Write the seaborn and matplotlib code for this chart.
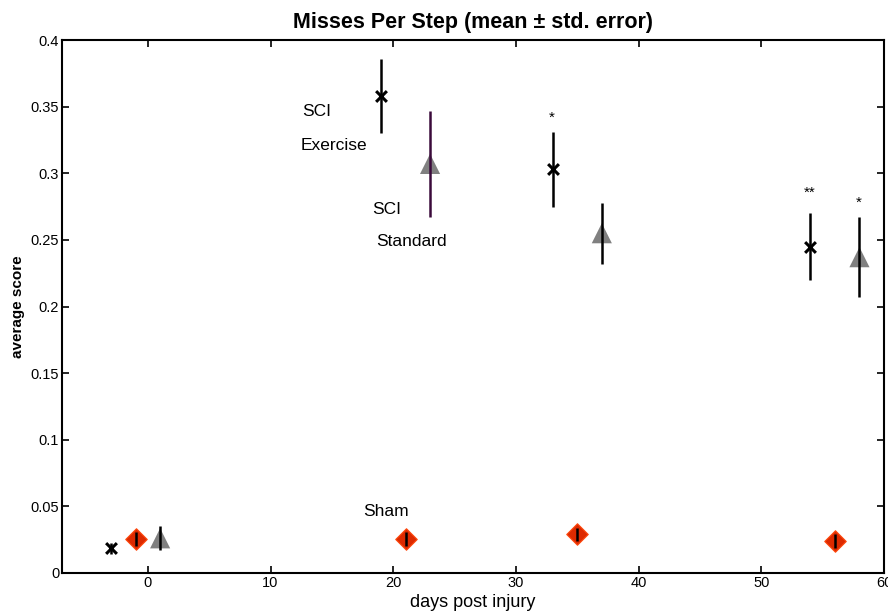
import numpy as np
import pandas as pd
import matplotlib
matplotlib.use("Agg")
import matplotlib.pyplot as plt
import seaborn as sns

# values
exercise_days = [-3, 19, 33, 54]
exercise_mean = [0.0185, 0.358, 0.303, 0.245]
exercise_err = [0.004, 0.028, 0.028, 0.025]

standard_days = [1, 23, 37, 58]
standard_mean = [0.026, 0.307, 0.255, 0.237]
standard_err = [0.009, 0.040, 0.023, 0.030]

sham_days = [-1, 21, 35, 56]
sham_mean = [0.0255, 0.0255, 0.029, 0.024]
sham_err = [0.005, 0.005, 0.005, 0.005]

y_ticks = [0, 0.05, 0.1, 0.15, 0.2, 0.25, 0.3, 0.35, 0.4]
y_tick_labels = ["0", "0.05", "0.1", "0.15", "0.2", "0.25", "0.3", "0.35", "0.4"]
x_ticks = [0, 10, 20, 30, 40, 50, 60]

sns.set_style("ticks")
plt.rcParams['font.family'] = ['Liberation Sans', 'DejaVu Sans']
plt.rcParams['text.color'] = 'black'
plt.rcParams['axes.labelcolor'] = 'black'
plt.rcParams['xtick.color'] = 'black'
plt.rcParams['ytick.color'] = 'black'
plt.rcParams['axes.edgecolor'] = 'black'

df = pd.concat([
    pd.DataFrame({"day": exercise_days, "score": exercise_mean, "err": exercise_err, "group": "SCI Exercise"}),
    pd.DataFrame({"day": standard_days, "score": standard_mean, "err": standard_err, "group": "SCI Standard"}),
    pd.DataFrame({"day": sham_days, "score": sham_mean, "err": sham_err, "group": "Sham"}),
])

fig = plt.figure(figsize=(8.88, 6.13), dpi=100)
ax = fig.add_axes([0.0698, 0.0653, 0.9257, 0.8694])

# markers first
sham = df[df.group == "Sham"]
sns.scatterplot(data=sham, x="day", y="score", marker="D", s=120, color="#dd2a00",
                edgecolor="#ff4a10", linewidth=0.8, ax=ax, zorder=3)
std = df[df.group == "SCI Standard"]
sns.scatterplot(data=std, x="day", y="score", marker="^", s=210, color="#808080",
                edgecolor="none", ax=ax, zorder=3)
exe = df[df.group == "SCI Exercise"]
sns.scatterplot(data=exe, x="day", y="score", marker="x", s=60, color="black",
                linewidth=2.2, ax=ax, zorder=5)

# error bars
ax.errorbar(exercise_days, exercise_mean, yerr=exercise_err, fmt="none", ecolor="black",
            elinewidth=1.8, capsize=0, zorder=4)
std_colors = ["black", "#3a0a3a", "black", "black"]
for d, m, e, c in zip(standard_days, standard_mean, standard_err, std_colors):
    ax.errorbar([d], [m], yerr=[e], fmt="none", ecolor=c, elinewidth=1.8, capsize=0, zorder=4)
ax.errorbar(sham_days, sham_mean, yerr=sham_err, fmt="none", ecolor="black",
            elinewidth=1.8, capsize=0, zorder=4)

# annotations
ax.text(13.8, 0.346, "SCI", fontsize=12.5, ha="center", va="center")
ax.text(15.2, 0.321, "Exercise", fontsize=12.5, ha="center", va="center")
ax.text(19.5, 0.273, "SCI", fontsize=12.5, ha="center", va="center")
ax.text(21.5, 0.249, "Standard", fontsize=12.5, ha="center", va="center")
ax.text(19.4, 0.0465, "Sham", fontsize=12.5, ha="center", va="center")
ax.text(32.9, 0.342, "*", fontsize=11, ha="center", va="center")
ax.text(53.9, 0.285, "**", fontsize=11, ha="center", va="center")
ax.text(57.9, 0.278, "*", fontsize=11, ha="center", va="center")

ax.set_xlim(-7, 60)
ax.set_ylim(0, 0.4)
ax.set_xticks(x_ticks)
ax.set_yticks(y_ticks)
ax.set_yticklabels(y_tick_labels)
ax.tick_params(direction="in", top=True, right=True, labelsize=10.5, length=5, width=1.2, pad=2)
for s in ax.spines.values():
    s.set_linewidth(1.5)
    s.set_visible(True)

ax.set_xlabel("days post injury", fontsize=13, labelpad=3)
ax.set_ylabel("average score", fontsize=11, fontweight="bold", labelpad=4)
ax.set_title("Misses Per Step (mean \u00b1 std. error)", fontsize=15.5, fontweight="bold", pad=9)
if ax.get_legend() is not None:
    ax.get_legend().remove()

fig.savefig("out.png", dpi=100)
